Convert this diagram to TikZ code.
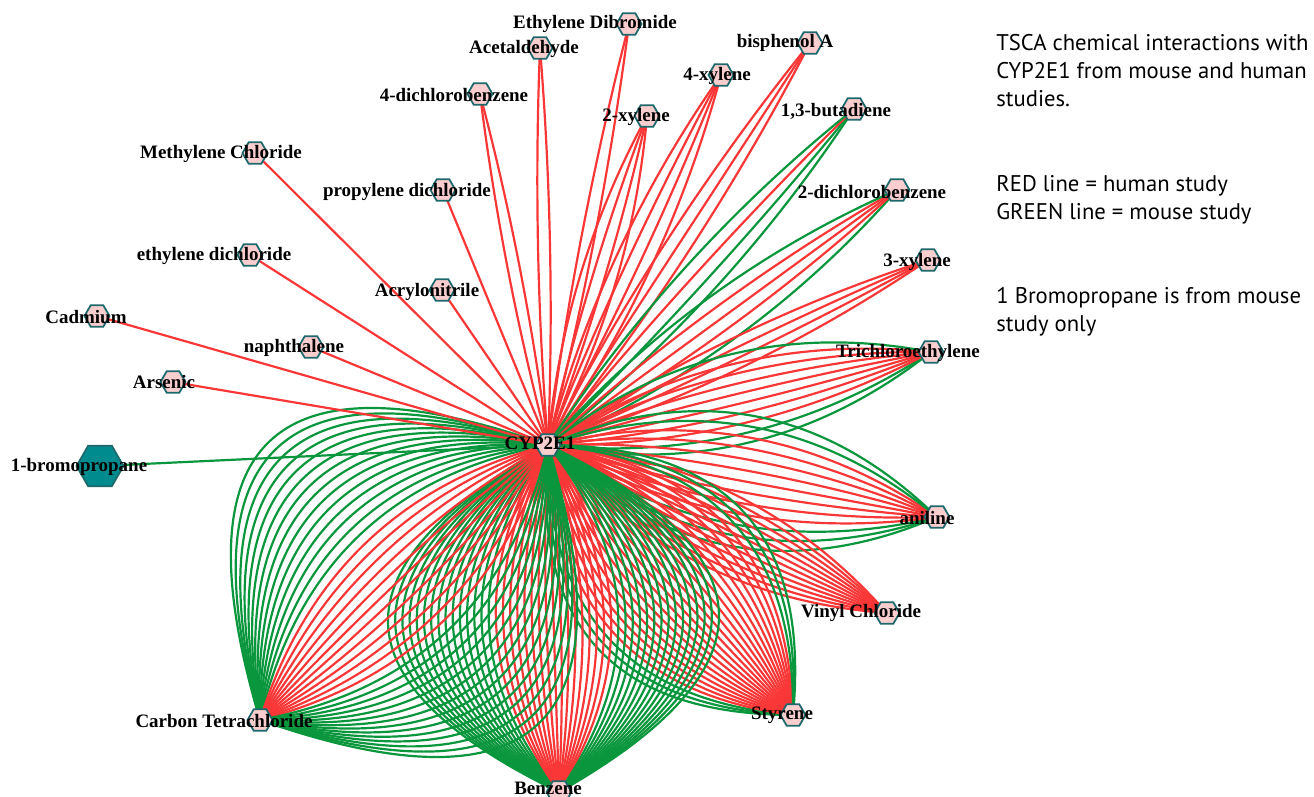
\documentclass[tikz,border=0pt]{standalone}
\usepackage{fontspec}
\setmainfont{Liberation Serif}
\newfontfamily\notefont{PT Sans}
\usetikzlibrary{shapes.geometric, backgrounds, calc}

\definecolor{humred}{RGB}{250,55,55}
\definecolor{mousegreen}{RGB}{10,150,60}
\definecolor{hexpink}{RGB}{250,206,206}
\definecolor{hexteal}{RGB}{28,104,108}
\definecolor{bromteal}{RGB}{0,140,142}

\tikzset{
  chem/.style={regular polygon, regular polygon sides=6, minimum size=0.5cm,
    inner sep=0pt, fill=hexpink, draw=hexteal, line width=1pt},
  chemlabel/.style={font=\bfseries\fontsize{10.8}{12}\selectfont, inner sep=0pt},
  edge/.style={line width=1.25pt},
  note/.style={font=\notefont\fontsize{12.9}{15.8}\selectfont, align=left,
    anchor=north west, inner sep=0pt}
}

% parallel edges CYP2E1 -- chemical
% #1 node, #2 spacing (px), #3 green, #4 red, #5 green
\newcommand{\bundle}[5]{%
  \pgfmathtruncatemacro\nb{#3+#4+#5}%
  \foreach \i in {1,...,\nb} {
    \pgfmathsetmacro\off{(\i-(\nb+1)/2)*#2*0.7587}
    \ifnum\i>#3
      \ifnum\i>\numexpr#3+#4\relax \def\col{mousegreen}\else\def\col{humred}\fi
    \else
      \def\col{mousegreen}
    \fi
    \draw[edge, draw=\col] (cyp.center)
      .. controls ($(cyp)!1/3!(#1)!\off pt!90:(#1)$)
      and ($(cyp)!2/3!(#1)!\off pt!90:(#1)$) .. (#1.center);
  }%
}

\begin{document}
\begin{tikzpicture}[x=0.02cm, y=-0.02cm]

\useasboundingbox (0,0) rectangle (1314,797);

% chemicals
\node[chem] (cyp)  at (548,445) {};
\node[chem] (edb)  at (629,24)  {};
\node[chem] (acet) at (540,48)  {};
\node[chem] (pdcb) at (480,94)  {};
\node[chem] (oxyl) at (647,116) {};
\node[chem] (pxyl) at (721,75)  {};
\node[chem] (bpa)  at (810,43)  {};
\node[chem] (buta) at (854,109) {};
\node[chem] (odcb) at (897,190) {};
\node[chem] (mxyl) at (928,260) {};
\node[chem] (tce)  at (931,352) {};
\node[chem] (anil) at (937,517) {};
\node[chem] (vc)   at (887,613) {};
\node[chem] (sty)  at (793,715) {};
\node[chem] (benz) at (559,792) {};
\node[chem] (ct)   at (260,720) {};
\node[chem] (ars)  at (173,382) {};
\node[chem] (cad)  at (97,316)  {};
\node[chem] (naph) at (311,347) {};
\node[chem] (edc)  at (250,255) {};
\node[chem] (meth) at (255,153) {};
\node[chem] (prop) at (443,190) {};
\node[chem] (acry) at (442,290) {};
\node[chem, minimum size=0.94cm, fill=bromteal, draw=hexteal] (brom) at (100,466) {};

% edges
\begin{scope}[on background layer]
\bundle{edb}{13}{0}{2}{0}
\bundle{acet}{12}{0}{2}{0}
\bundle{pdcb}{12}{0}{2}{0}
\bundle{oxyl}{12}{0}{4}{0}
\bundle{pxyl}{12}{0}{4}{0}
\bundle{bpa}{12}{0}{3}{0}
\bundle{buta}{12}{2}{1}{1}
\bundle{odcb}{12}{1}{3}{1}
\bundle{mxyl}{10}{0}{4}{0}
\bundle{tce}{10}{2}{7}{1}
\bundle{anil}{11}{3}{8}{2}
\bundle{vc}{7}{0}{12}{0}
\bundle{sty}{7.4}{3}{22}{3}
\bundle{benz}{7.2}{15}{17}{15}
\bundle{ct}{10}{14}{12}{14}
\bundle{ars}{0}{0}{1}{0}
\bundle{cad}{0}{0}{1}{0}
\bundle{naph}{0}{0}{1}{0}
\bundle{edc}{0}{0}{1}{0}
\bundle{meth}{0}{0}{1}{0}
\bundle{prop}{0}{0}{1}{0}
\bundle{acry}{0}{0}{1}{0}
\bundle{brom}{0}{1}{0}{0}
\end{scope}

% labels
\node[chemlabel] (cyp-l)  at (540,443) {CYP2E1};
\node[chemlabel] (edb-l)  at (595,24)  {Ethylene Dibromide};
\node[chemlabel] (acet-l) at (524,49)  {Acetaldehyde};
\node[chemlabel] (pdcb-l) at (454,95)  {4-dichlorobenzene};
\node[chemlabel] (oxyl-l) at (636,117) {2-xylene};
\node[chemlabel] (pxyl-l) at (717,76)  {4-xylene};
\node[chemlabel] (bpa-l)  at (785,43)  {bisphenol A};
\node[chemlabel] (buta-l) at (836,111) {1,3-butadiene};
\node[chemlabel] (odcb-l) at (872,192) {2-dichlorobenzene};
\node[chemlabel] (mxyl-l) at (917,262) {3-xylene};
\node[chemlabel] (tce-l)  at (908,353) {Trichloroethylene};
\node[chemlabel] (anil-l) at (927,518) {aniline};
\node[chemlabel] (vc-l)   at (861,613) {Vinyl Chloride};
\node[chemlabel] (sty-l)  at (782,715) {Styrene};
\node[chemlabel] (benz-l) at (548,788) {Benzene};
\node[chemlabel] (ct-l)   at (224,721) {Carbon Tetrachloride};
\node[chemlabel] (brom-l) at (79,467)  {1-bromopropane};
\node[chemlabel] (ars-l)  at (164,382) {Arsenic};
\node[chemlabel] (cad-l)  at (86,317)  {Cadmium};
\node[chemlabel] (naph-l) at (294,348) {naphthalene};
\node[chemlabel] (edc-l)  at (214,256) {ethylene dichloride};
\node[chemlabel] (meth-l) at (221,154) {Methylene Chloride};
\node[chemlabel] (prop-l) at (407,192) {propylene dichloride};
\node[chemlabel] (acry-l) at (427,292) {Acrylonitrile};

% notes
\node[note] (title)  at (996,34)  {TSCA chemical interactions with\\CYP2E1 from mouse and human\\studies.};
\node[note] (legend) at (996,175) {RED line = human study\\GREEN line = mouse study};
\node[note] (remark) at (996,287) {1 Bromopropane is from mouse\\study only};

\end{tikzpicture}
\end{document}
